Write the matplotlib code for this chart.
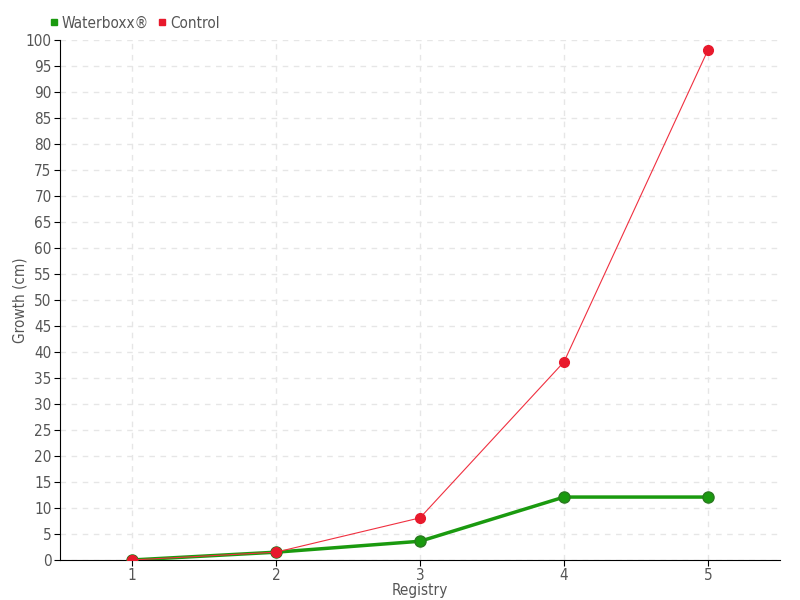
import matplotlib
matplotlib.use("Agg")
import matplotlib.pyplot as plt
from matplotlib.lines import Line2D

plt.rcParams['font.family'] = ['DejaVu Sans']
plt.rcParams['font.stretch'] = 'condensed'

registry = [1, 2, 3, 4, 5]
waterboxx = [0, 1.5, 3.6, 12.1, 12.1]
control = [0, 1.5, 8.1, 38.1, 98.1]

green = '#1a9a0f'
red = '#e8192c'
txt = '#555555'

fig = plt.figure(figsize=(8, 6), dpi=100)
ax = fig.add_axes([0.075, 0.0667, 0.9, 0.8666])

ax.plot(registry, waterboxx, color=green, lw=2.5, marker='o', ms=8,
        markerfacecolor=green, markeredgecolor='#2a7a20', zorder=3)
ax.plot(registry, control, color='#f03040', lw=0.8, marker='o', ms=7,
        markerfacecolor=red, markeredgecolor=red, zorder=4)

ax.set_xlim(0.5, 5.5)
ax.set_ylim(0, 100)
ax.set_xticks(registry)
ax.set_yticks(range(0, 101, 5))
ax.grid(True, color='#e6e6e6', linestyle=(0, (4, 4)), lw=1)
ax.set_axisbelow(True)

for s in ['top', 'right']:
    ax.spines[s].set_visible(False)
ax.tick_params(axis='both', colors='black', labelcolor=txt, labelsize=11, length=4, pad=2)

ax.set_xlabel('Registry', color=txt, fontsize=11, labelpad=0)
ax.set_ylabel('Growth (cm)', color=txt, fontsize=11)
ax.yaxis.set_label_coords(-0.045, 0.5)

handles = [Line2D([], [], marker='s', color='none', markerfacecolor=green, markeredgecolor=green, ms=5),
           Line2D([], [], marker='s', color='none', markerfacecolor=red, markeredgecolor=red, ms=5)]
fig.legend(handles, ['Waterboxx®', 'Control'], loc='upper left', bbox_to_anchor=(0.044, 0.997),
           ncol=2, frameon=False, fontsize=11, labelcolor=txt, handlelength=0.6,
           handletextpad=0.2, columnspacing=0.6)

fig.savefig('out.png', dpi=100)
